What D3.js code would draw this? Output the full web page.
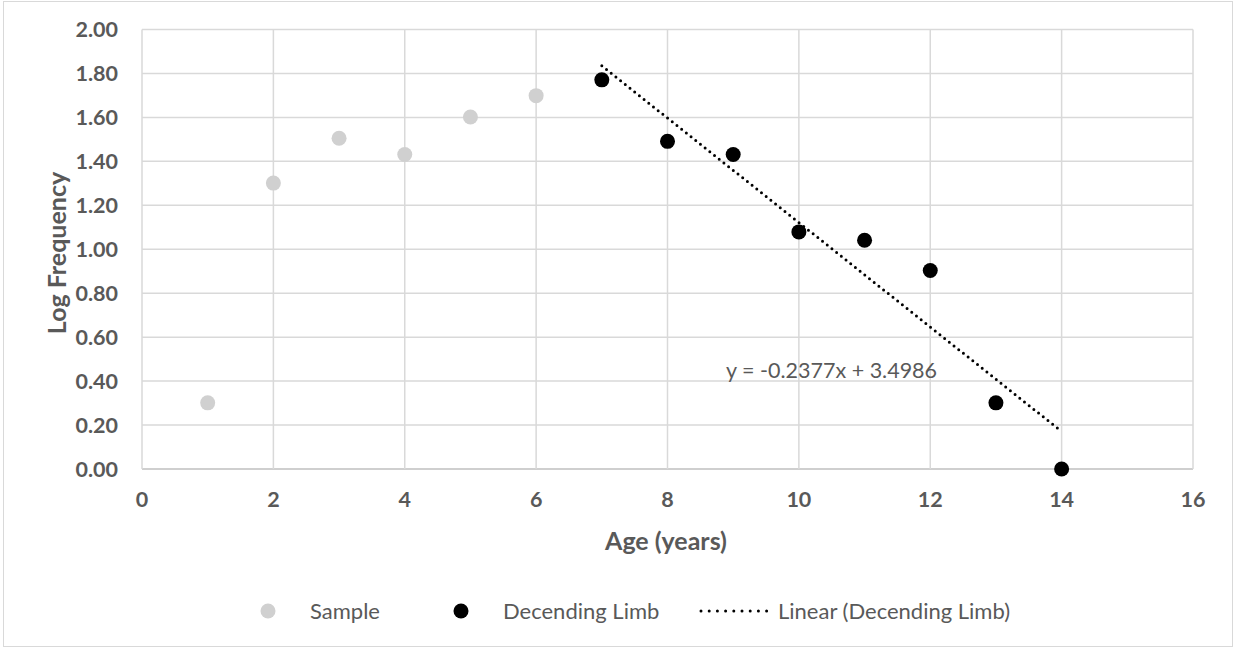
<!DOCTYPE html>
<html>
<head>
<meta charset="utf-8">
<script src="https://cdn.jsdelivr.net/npm/d3@7"></script>
<style>
  body { margin: 0; background: #fff; }
  text { font-family: Lato, "Liberation Sans", Arial, sans-serif; }
</style>
</head>
<body>
<svg width="1236" height="650"></svg>
<script>
let width = 1236,
  height = 650;

// Data (log10 of frequency by age)
let sampleAges = [1, 2, 3, 4, 5, 6];
let sampleLog = [0.301, 1.301, 1.505, 1.431, 1.602, 1.699];
let limbAges = [7, 8, 9, 10, 11, 12, 13, 14];
let limbLog = [1.771, 1.491, 1.431, 1.079, 1.041, 0.903, 0.301, 0.0];
let trendSlope = -0.2377,
  trendIntercept = 3.4986;
let trendRange = [7, 14];
let xTicks = [0, 2, 4, 6, 8, 10, 12, 14, 16];
let yTicks = [0, 0.2, 0.4, 0.6, 0.8, 1.0, 1.2, 1.4, 1.6, 1.8, 2.0];
let legendLabels = ["Sample", "Decending Limb", "Linear (Decending Limb)"];

let svg = d3.select("svg");

// outer border
svg
  .append("rect")
  .attr("x", 3.5)
  .attr("y", 1.5)
  .attr("width", 1229)
  .attr("height", 645)
  .attr("fill", "#fff")
  .attr("stroke", "#d9d9d9")
  .attr("stroke-width", 1);

let x = d3.scaleLinear().domain([0, 16]).range([142, 1193]);
let y = d3.scaleLinear().domain([0, 2]).range([469, 29.5]);

let grey = "#595959";

// gridlines
svg
  .append("g")
  .selectAll("line")
  .data(yTicks)
  .enter()
  .append("line")
  .attr("x1", x(0))
  .attr("x2", x(16))
  .attr("y1", (d) => y(d))
  .attr("y2", (d) => y(d))
  .attr("stroke", (d) => (d == 0 ? "#bfbfbf" : "#d9d9d9"))
  .attr("stroke-width", 1.5);

svg
  .append("g")
  .selectAll("line")
  .data(xTicks)
  .enter()
  .append("line")
  .attr("x1", (d) => x(d))
  .attr("x2", (d) => x(d))
  .attr("y1", y(0))
  .attr("y2", y(2))
  .attr("stroke", "#d9d9d9")
  .attr("stroke-width", 1.5);

// tick labels
svg
  .append("g")
  .selectAll("text")
  .data(yTicks)
  .enter()
  .append("text")
  .attr("x", 118)
  .attr("y", (d) => y(d) + 7.5)
  .attr("text-anchor", "end")
  .attr("fill", grey)
  .style("font-size", "21.5px")
  .style("font-weight", "bold")
  .text((d) => d3.format(".2f")(d));

svg
  .append("g")
  .selectAll("text")
  .data(xTicks)
  .enter()
  .append("text")
  .attr("x", (d) => x(d))
  .attr("y", 507)
  .attr("text-anchor", "middle")
  .attr("fill", grey)
  .style("font-size", "21.5px")
  .style("font-weight", "bold")
  .text((d) => d);

// axis titles
svg
  .append("text")
  .attr("x", 666)
  .attr("y", 550)
  .attr("text-anchor", "middle")
  .attr("fill", grey)
  .style("font-size", "25px")
  .style("font-weight", "bold")
  .text("Age (years)");

svg
  .append("text")
  .attr("transform", "translate(66,253) rotate(-90)")
  .attr("text-anchor", "middle")
  .attr("fill", grey)
  .style("font-size", "25px")
  .style("font-weight", "bold")
  .text("Log Frequency");

// trendline
svg
  .append("line")
  .attr("x1", x(trendRange[0]))
  .attr("x2", x(trendRange[1]))
  .attr("y1", y(trendSlope * trendRange[0] + trendIntercept))
  .attr("y2", y(trendSlope * trendRange[1] + trendIntercept))
  .attr("stroke", "#000")
  .attr("stroke-width", 3)
  .attr("stroke-linecap", "round")
  .attr("stroke-dasharray", "0 6");

// points
svg
  .append("g")
  .selectAll("circle")
  .data(sampleAges)
  .enter()
  .append("circle")
  .attr("cx", (d) => x(d))
  .attr("cy", (d, i) => y(sampleLog[i]))
  .attr("r", 7.5)
  .attr("fill", "#d0d0d0");

svg
  .append("g")
  .selectAll("circle")
  .data(limbAges)
  .enter()
  .append("circle")
  .attr("cx", (d) => x(d))
  .attr("cy", (d, i) => y(limbLog[i]))
  .attr("r", 7.5)
  .attr("fill", "#000");

// equation label
svg
  .append("text")
  .attr("x", 726)
  .attr("y", 378)
  .attr("fill", grey)
  .style("font-size", "21.5px")
  .text("y = " + trendSlope + "x + " + trendIntercept);

// legend
let legend = svg.append("g").attr("transform", "translate(0,611)");

legend
  .append("circle")
  .attr("cx", 268)
  .attr("cy", 0)
  .attr("r", 7.5)
  .attr("fill", "#d0d0d0");
legend
  .append("circle")
  .attr("cx", 461)
  .attr("cy", 0)
  .attr("r", 7.5)
  .attr("fill", "#000");
legend
  .append("line")
  .attr("x1", 701)
  .attr("x2", 767)
  .attr("y1", 0)
  .attr("y2", 0)
  .attr("stroke", "#000")
  .attr("stroke-width", 3)
  .attr("stroke-linecap", "round")
  .attr("stroke-dasharray", "0 8.2");

legend
  .selectAll("text")
  .data(legendLabels)
  .enter()
  .append("text")
  .attr("x", (d, i) => [310, 503, 778][i])
  .attr("y", 7.5)
  .attr("fill", grey)
  .style("font-size", "22px")
  .text((d) => d);
</script>
</body>
</html>
